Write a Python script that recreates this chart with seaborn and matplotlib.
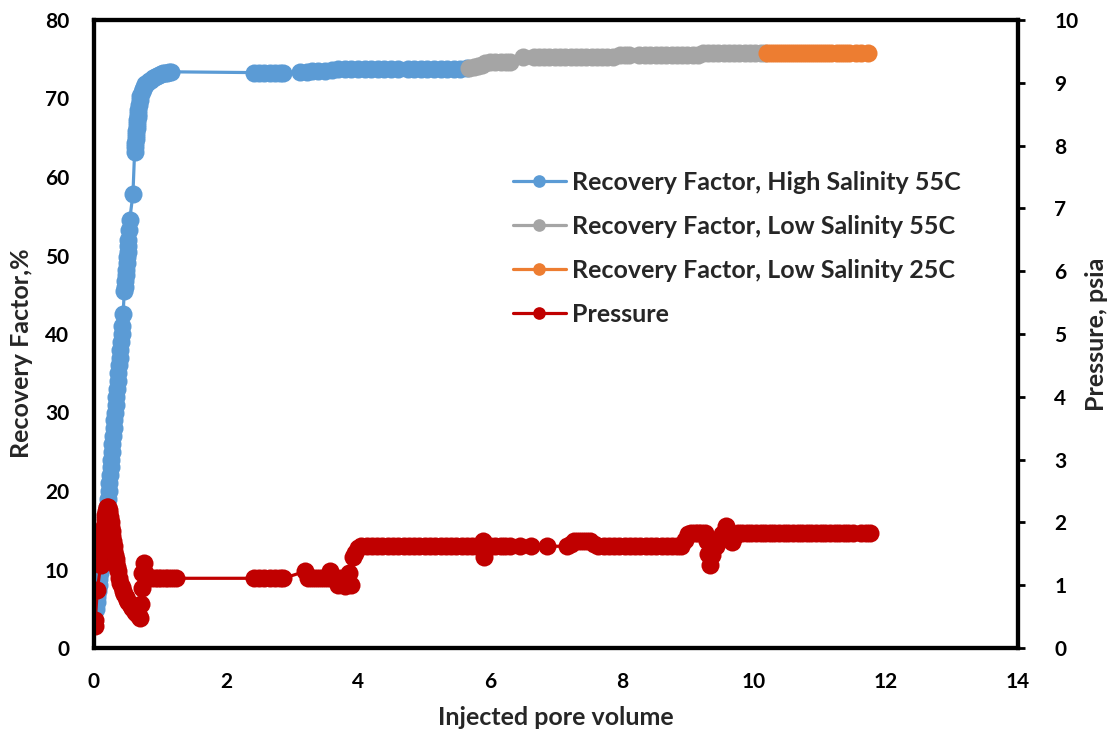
import matplotlib
matplotlib.use("Agg")
import matplotlib.pyplot as plt
import pandas as pd
import seaborn as sns

# Recovery factor, high salinity brine at 55C (injected PV, %)
hs55_pv = [0.03, 0.04, 0.05, 0.06, 0.07, 0.08, 0.09, 0.10, 0.11, 0.12, 0.13,
           0.14, 0.15, 0.16, 0.17, 0.18, 0.19, 0.20, 0.21, 0.22, 0.23, 0.24,
           0.25, 0.26, 0.27, 0.28, 0.29, 0.30, 0.31, 0.32, 0.33, 0.34, 0.35,
           0.36, 0.37, 0.38, 0.39, 0.40, 0.41, 0.42, 0.43, 0.44,
           0.46, 0.47, 0.475, 0.48, 0.49, 0.495, 0.50, 0.51, 0.515, 0.52,
           0.53, 0.54,
           0.59,
           0.615, 0.62, 0.625, 0.63, 0.635, 0.64, 0.645, 0.65, 0.655, 0.66,
           0.665, 0.67, 0.68, 0.69, 0.70, 0.72, 0.74, 0.76, 0.78, 0.80,
           0.83, 0.86, 0.89, 0.92, 0.95, 0.98, 1.01, 1.04, 1.07, 1.10,
           1.13, 1.16,
           2.42, 2.50, 2.58, 2.66, 2.74, 2.82, 2.87,
           3.12, 3.22, 3.30, 3.40, 3.50, 3.60, 3.70, 3.80, 3.90, 4.00, 4.10,
           4.20, 4.30, 4.40, 4.50, 4.60, 4.75, 4.85, 4.95, 5.05, 5.15, 5.25,
           5.35, 5.45, 5.55, 5.65]
hs55_rf = [5.0, 5.8, 6.5, 7.3, 8.0, 8.8, 9.5, 10.3, 11.0, 11.8, 12.5,
           13.3, 14.0, 14.8, 15.5, 16.3, 17.0, 18.0, 19.0, 20.0, 21.0, 22.0,
           23.0, 24.0, 25.0, 26.0, 27.0, 28.0, 29.0, 30.0, 31.0, 32.0, 33.0,
           34.0, 35.0, 36.0, 37.0, 38.0, 39.0, 40.0, 41.0, 42.5,
           45.5, 46.0, 46.8, 47.5, 48.2, 49.0, 49.8, 50.5, 51.2, 52.0,
           53.2, 54.5,
           57.8,
           63.2, 63.8, 64.3, 64.8, 65.3, 65.8, 66.3, 66.8, 67.2, 67.6,
           68.0, 68.5, 69.2, 69.8, 70.3, 70.8, 71.2, 71.5, 71.8, 72.0,
           72.2, 72.4, 72.6, 72.8, 72.9, 73.0, 73.1, 73.2, 73.3, 73.3,
           73.4, 73.4,
           73.3, 73.3, 73.3, 73.3, 73.3, 73.3, 73.3,
           73.4, 73.4, 73.5, 73.5, 73.5, 73.6, 73.7, 73.7, 73.7, 73.7, 73.7,
           73.7, 73.7, 73.7, 73.7, 73.7, 73.7, 73.8, 73.8, 73.8, 73.8, 73.8,
           73.8, 73.8, 73.8, 73.9]

# Recovery factor, low salinity brine at 55C
ls55_pv = [5.68, 5.75, 5.82, 5.88, 5.93, 6.00, 6.08, 6.16, 6.24, 6.30,
           6.50,
           6.66, 6.74, 6.82, 6.90, 6.98, 7.06, 7.14, 7.22, 7.30, 7.38, 7.46,
           7.54, 7.62, 7.70, 7.78, 7.87,
           7.97, 8.04, 8.10,
           8.25, 8.35, 8.43, 8.51, 8.59, 8.67, 8.75, 8.83, 8.91, 8.99, 9.07,
           9.15,
           9.22, 9.30, 9.38, 9.46, 9.54, 9.62, 9.70, 9.78, 9.86, 9.94, 10.02,
           10.10, 10.16]
ls55_rf = [73.9, 74.0, 74.1, 74.3, 74.5, 74.6, 74.6, 74.6, 74.6, 74.6,
           75.3,
           75.3, 75.3, 75.3, 75.3, 75.3, 75.3, 75.3, 75.3, 75.3, 75.3, 75.3,
           75.3, 75.3, 75.3, 75.3, 75.3,
           75.5, 75.5, 75.5,
           75.5, 75.5, 75.5, 75.5, 75.5, 75.5, 75.5, 75.5, 75.5, 75.5, 75.5,
           75.5,
           75.8, 75.8, 75.8, 75.8, 75.8, 75.8, 75.8, 75.8, 75.8, 75.8, 75.8,
           75.8, 75.8]

# Recovery factor, low salinity brine at 25C
ls25_pv = [10.20, 10.26, 10.32, 10.38, 10.44, 10.50, 10.56, 10.62, 10.68,
           10.74, 10.80, 10.86, 10.92, 10.98, 11.04, 11.10, 11.16, 11.26,
           11.32, 11.38, 11.44, 11.54, 11.62, 11.72]
ls25_rf = [75.8, 75.8, 75.8, 75.8, 75.8, 75.8, 75.8, 75.8, 75.8,
           75.8, 75.8, 75.8, 75.8, 75.8, 75.8, 75.8, 75.8, 75.8,
           75.8, 75.8, 75.8, 75.8, 75.8, 75.8]

# Differential pressure across the core (psia)
p_pv = [0.01, 0.02, 0.05, 0.10,
        0.12, 0.13, 0.14, 0.15, 0.16, 0.17, 0.18, 0.19, 0.20, 0.21,
        0.22, 0.23, 0.24, 0.25, 0.26, 0.27, 0.28, 0.29, 0.30, 0.31,
        0.32, 0.33, 0.34, 0.35, 0.36,
        0.38, 0.40, 0.42, 0.44, 0.46, 0.48, 0.50, 0.52, 0.54, 0.56,
        0.58, 0.60, 0.62, 0.64, 0.66, 0.68, 0.70,
        0.71, 0.72, 0.73, 0.75, 0.78, 0.82, 0.87, 0.92, 0.97, 1.02, 1.07, 1.12,
        1.18, 1.24,
        2.42, 2.50, 2.58, 2.66, 2.74, 2.82, 2.87,
        3.20, 3.24, 3.30, 3.36, 3.42, 3.48, 3.54, 3.58, 3.64, 3.70, 3.74, 3.80,
        3.86, 3.90, 3.93, 3.96, 4.00, 4.05,
        4.13, 4.21, 4.29, 4.37, 4.45, 4.53, 4.61, 4.69, 4.77, 4.85, 4.93,
        5.01, 5.09, 5.17, 5.25, 5.33, 5.41, 5.49, 5.57, 5.65, 5.73, 5.81,
        5.87, 5.89, 5.91, 5.94, 6.00, 6.08, 6.16, 6.22,
        6.30, 6.46, 6.62, 6.86,
        7.17, 7.22, 7.28, 7.34, 7.40, 7.46, 7.52, 7.58, 7.64,
        7.72, 7.80, 7.88, 7.96, 8.04, 8.12, 8.20, 8.28, 8.36, 8.44, 8.52,
        8.60, 8.68, 8.76, 8.84, 8.90,
        8.95, 9.00, 9.05, 9.10, 9.15, 9.20, 9.25, 9.29, 9.31, 9.34, 9.37,
        9.42, 9.47, 9.52, 9.58, 9.62, 9.66, 9.70, 9.75,
        9.82, 9.89, 9.96, 10.03, 10.10, 10.17, 10.24, 10.31, 10.38, 10.45,
        10.52, 10.59, 10.66, 10.73, 10.80, 10.87, 10.94, 11.01, 11.08, 11.15,
        11.22, 11.29, 11.36, 11.43, 11.50, 11.62, 11.70, 11.75]
p_psi = [0.35, 0.45, 0.92, 1.32,
         1.55, 1.70, 1.82, 1.95, 2.05, 2.12, 2.18, 2.22, 2.25, 2.24,
         2.20, 2.15, 2.08, 2.00, 1.93, 1.86, 1.78, 1.70, 1.62, 1.55,
         1.48, 1.41, 1.35, 1.29, 1.23,
         1.12, 1.04, 0.97, 0.91, 0.86, 0.81, 0.77, 0.73, 0.70, 0.67,
         0.64, 0.61, 0.58, 0.56, 0.53, 0.51, 0.48,
         0.70, 0.95, 1.20, 1.35, 1.20, 1.11, 1.11, 1.11, 1.11, 1.11, 1.11, 1.11,
         1.11, 1.11,
         1.11, 1.11, 1.11, 1.11, 1.11, 1.11, 1.11,
         1.22, 1.11, 1.11, 1.11, 1.11, 1.11, 1.11, 1.22, 1.11, 1.00, 1.11, 0.98,
         1.20, 1.00, 1.45, 1.52, 1.60, 1.62,
         1.62, 1.62, 1.62, 1.62, 1.62, 1.62, 1.62, 1.62, 1.62, 1.62, 1.62,
         1.62, 1.62, 1.62, 1.62, 1.62, 1.62, 1.62, 1.62, 1.62, 1.62, 1.62,
         1.62, 1.70, 1.45, 1.58, 1.62, 1.62, 1.62, 1.62,
         1.62, 1.62, 1.62, 1.62,
         1.62, 1.66, 1.70, 1.70, 1.70, 1.70, 1.70, 1.66, 1.62,
         1.62, 1.62, 1.62, 1.62, 1.62, 1.62, 1.62, 1.62, 1.62, 1.62, 1.62,
         1.62, 1.62, 1.62, 1.62, 1.62,
         1.72, 1.82, 1.83, 1.83, 1.83, 1.83, 1.83, 1.70, 1.50, 1.32, 1.48,
         1.62, 1.72, 1.82, 1.95, 1.85, 1.68, 1.76, 1.83,
         1.83, 1.83, 1.83, 1.83, 1.83, 1.83, 1.83, 1.83, 1.83, 1.83,
         1.83, 1.83, 1.83, 1.83, 1.83, 1.83, 1.83, 1.83, 1.83, 1.83,
         1.83, 1.83, 1.83, 1.83, 1.83, 1.83, 1.83, 1.83]

x_ticks = [0, 2, 4, 6, 8, 10, 12, 14]
rf_ticks = [0, 10, 20, 30, 40, 50, 60, 70, 80]
p_ticks = [0, 1, 2, 3, 4, 5, 6, 7, 8, 9, 10]

labels = ["Recovery Factor, High Salinity 55C",
          "Recovery Factor, Low Salinity 55C",
          "Recovery Factor, Low Salinity 25C",
          "Pressure"]
colors = ["#5B9BD5", "#A5A5A5", "#ED7D31", "#C00000"]

sns.set_theme(style="white")
plt.rcParams["font.family"] = ["Lato", "DejaVu Sans"]
plt.rcParams["font.weight"] = "bold"
plt.rcParams["axes.labelweight"] = "bold"

TICK_FS = 15
TEXT_FS = 18
fig = plt.figure(figsize=(11.12, 7.32), dpi=100)
ax = fig.add_axes([94 / 1112, 84 / 732, 924 / 1112, 628 / 732])
ax2 = ax.twinx()

line_kw = dict(marker="o", markersize=13, markeredgewidth=0,
               linewidth=2.3, estimator=None, sort=False)

rf_series = [(hs55_pv, hs55_rf), (ls55_pv, ls55_rf), (ls25_pv, ls25_rf)]
for (pv, rf), lab, col in zip(rf_series, labels[:3], colors[:3]):
    df = pd.DataFrame({"pv": pv, "val": rf})
    sns.lineplot(data=df, x="pv", y="val", ax=ax, color=col,
                 markeredgecolor=col, label=lab, **line_kw)

dfp = pd.DataFrame({"pv": p_pv, "val": p_psi})
sns.lineplot(data=dfp, x="pv", y="val", ax=ax2, color=colors[3],
             markeredgecolor=colors[3], label=labels[3], **line_kw)

for a in (ax, ax2):
    leg = a.get_legend()
    if leg is not None:
        leg.remove()

ax.set_xlim(0, 14)
ax.set_ylim(0, 80)
ax2.set_ylim(0, 10)
ax.set_xticks(x_ticks)
ax.set_yticks(rf_ticks)
ax2.set_yticks(p_ticks)
ax.set_xticklabels([str(v) for v in x_ticks], fontsize=TICK_FS, fontweight="bold")
ax.set_yticklabels([str(v) for v in rf_ticks], fontsize=TICK_FS, fontweight="bold")
ax2.set_yticklabels([str(v) for v in p_ticks], fontsize=TICK_FS, fontweight="bold")

ax.tick_params(axis="y", length=0, pad=18, colors="black")
ax.tick_params(axis="x", length=0, pad=17, colors="black")
ax2.tick_params(axis="y", direction="out", length=5, width=2, pad=21,
                colors="black")

for a in (ax, ax2):
    for sp in a.spines.values():
        sp.set_visible(True)
        sp.set_color("black")
        sp.set_linewidth(3)
    a.grid(False)

ax.set_xlabel("Injected pore volume", fontsize=TEXT_FS, fontweight="bold")
ax.set_ylabel("Recovery Factor,%", fontsize=TEXT_FS, fontweight="bold")
ax2.set_ylabel("Pressure, psia", fontsize=TEXT_FS, fontweight="bold")
ax.xaxis.set_label_coords(0.5, -0.092)
ax.yaxis.set_label_coords(-0.066, 0.47)
ax2.yaxis.set_label_coords(1.073, 0.50)

h1, l1 = ax.get_legend_handles_labels()
h2, l2 = ax2.get_legend_handles_labels()
fig.legend(h1 + h2, l1 + l2, loc="upper left",
           bbox_to_anchor=(513 / 1112, 1 - 171 / 732),
           frameon=False, prop={"weight": "bold", "size": TEXT_FS},
           handlelength=2.1, handletextpad=0.25, labelspacing=0.84,
           borderpad=0, borderaxespad=0, markerscale=0.7)

fig.savefig("out.png", dpi=100, facecolor="white")
